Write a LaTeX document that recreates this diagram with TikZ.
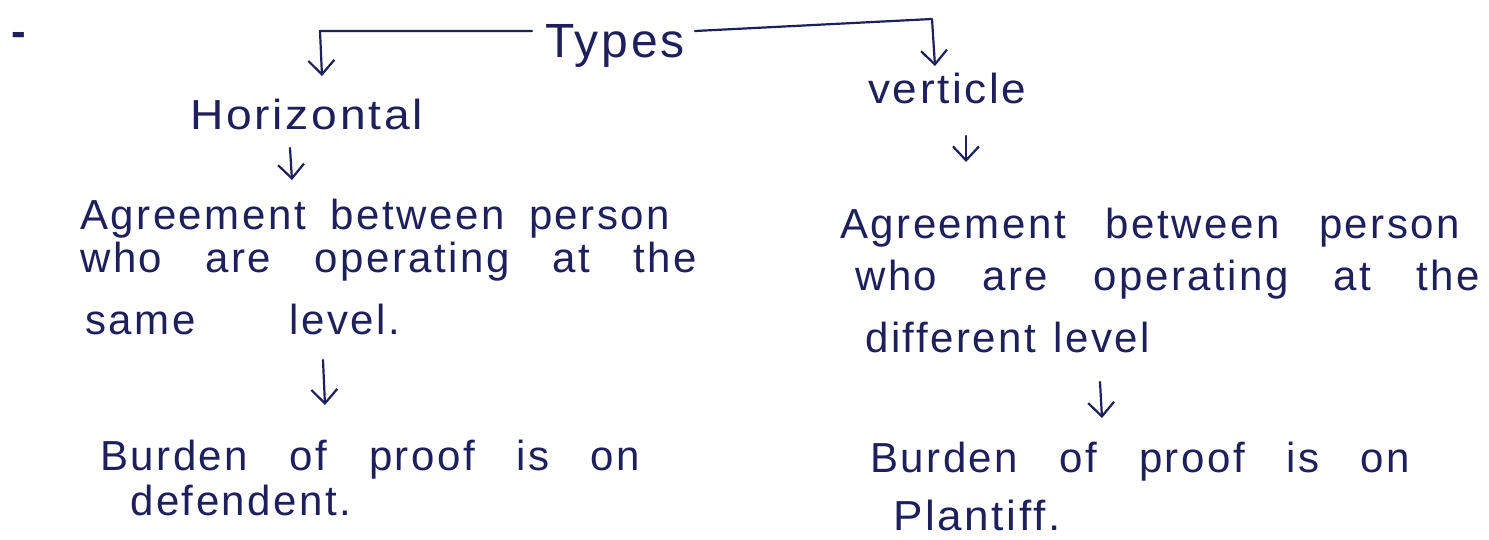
\documentclass[tikz,border=0pt]{standalone}
\usepackage{fontspec}
\setmainfont{Liberation Sans}[LetterSpace=6]
\usetikzlibrary{arrows.meta}
\definecolor{ink}{RGB}{30,32,92}
% spread the words of one line over a given width
\newcommand\spreadline[2]{\makebox[#1][s]{#2}}
% widen a single word
\newcommand\widen[2]{\scalebox{#1}[1]{#2}}
\begin{document}
\begin{tikzpicture}[x=1pt,y=-1pt,
  txt/.style={inner sep=0pt, anchor=base west, text=ink, font=\fontsize{42}{46}\selectfont},
  link/.style={draw=ink, line width=2.2pt, line cap=round, line join=round},
  arr/.style={link, -{Straight Barb[length=14pt,width=26pt,line width=2.2pt]}}]
\useasboundingbox[fill=white] (0,0) rectangle (1489,539);

% heading
\node[txt, font=\fontsize{44}{48}\bfseries] (dash) at (11,46) {-};
\node[txt, font=\fontsize{48}{52}\selectfont] (types) at (545,57) {Types};

% left branch
\node[txt] (horiz) at (190,129) {\widen{1.1}{Horizontal}};
\node[txt] (l1) at (80,229) {\spreadline{590pt}{Agreement between person}};
\node[txt] (l2) at (80,272) {\spreadline{617pt}{who are operating at the}};
\node[txt] (l3) at (85,334) {\spreadline{315pt}{same level.}};
\node[txt] (lb1) at (100,470) {\spreadline{540pt}{Burden of proof is on}};
\node[txt] (lb2) at (130,515) {defendent.};

% right branch
\node[txt] (vert) at (868,103) {\widen{1.05}{verticle}};
\node[txt] (r1) at (840,238) {\spreadline{620pt}{Agreement between person}};
\node[txt] (r2) at (855,290) {\spreadline{625pt}{who are operating at the}};
\node[txt] (r3) at (865,352) {\spreadline{285pt}{different level}};
\node[txt] (rb1) at (870,472) {\spreadline{540pt}{Burden of proof is on}};
\node[txt] (rb2) at (893,530) {\widen{1.05}{Plantiff.}};

% bends and arrow ends
\coordinate (lc) at (320,31);
\coordinate (lt) at (322,76);
\coordinate (rc) at (932,19);
\coordinate (rt) at (935,66);
\coordinate (a1) at (290,148);  \coordinate (a1e) at (292,180);
\coordinate (a2) at (323,360);  \coordinate (a2e) at (325,405);
\coordinate (a3) at (966,136);  \coordinate (a3e) at (966,162);
\coordinate (a4) at (1100,382); \coordinate (a4e) at (1102,418);

% split from the heading
\draw[arr] ([xshift=-13pt]types.west |- lc) -- (lc) -- (lt);
\draw[arr] ([xshift=10pt]types.east |- lc) -- (rc) -- (rt);

% downward steps
\draw[arr] (a1) -- (a1e);
\draw[arr] (a2) -- (a2e);
\draw[arr] (a3) -- (a3e);
\draw[arr] (a4) -- (a4e);
\end{tikzpicture}
\end{document}
